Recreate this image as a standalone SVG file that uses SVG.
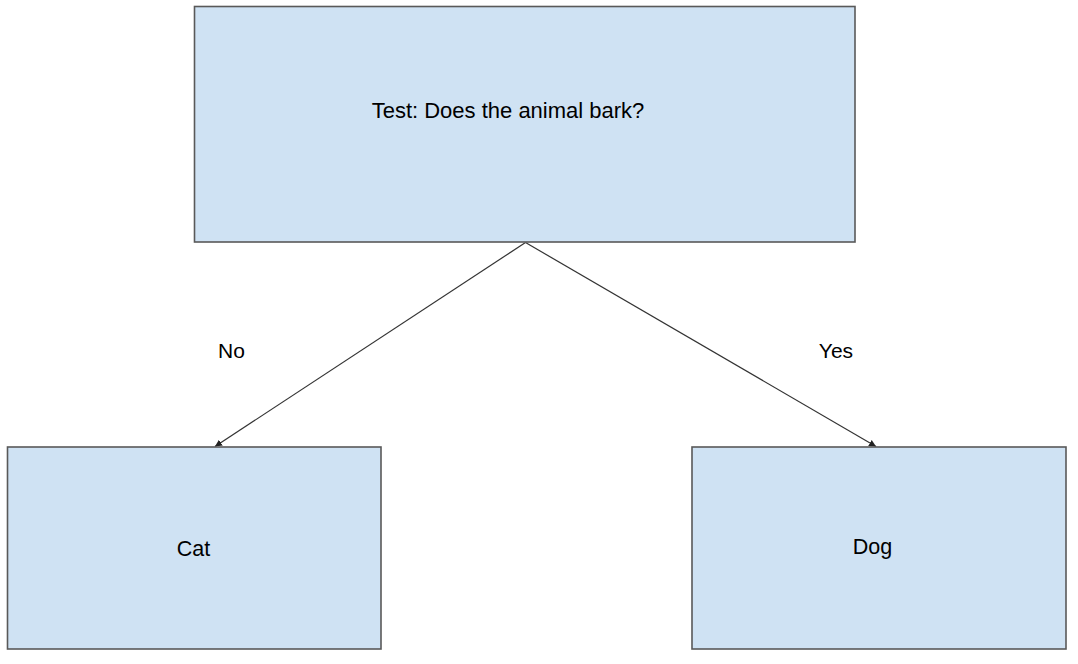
<svg xmlns="http://www.w3.org/2000/svg" width="1078" height="664" viewBox="0 0 1078 664">
<style>
.box{fill:#cfe2f3;stroke:#595959;stroke-width:1.6}
.lbl{font-family:"Liberation Sans",Arial,sans-serif;fill:#000;text-anchor:middle}
.edge{stroke:#333;stroke-width:1.2;fill:none;marker-end:url(#arr)}
</style>
<defs>
<marker id="arr" viewBox="0 0 10 10" refX="10" refY="5" markerWidth="7" markerHeight="7" markerUnits="userSpaceOnUse" orient="auto">
<path d="M0,0 L10,5 L0,10 z" fill="#222"/>
</marker>
</defs>
<rect width="1078" height="664" fill="#fff"/>
<g id="connectors">
<line class="edge" x1="525.5" y1="242.5" x2="215" y2="446.5"/>
<line class="edge" x1="525.5" y1="242.5" x2="876" y2="446.5"/>
<text class="lbl" x="231.5" y="358" font-size="21">No</text>
<text class="lbl" x="836" y="358" font-size="21">Yes</text>
</g>
<g id="node-test">
<rect class="box" x="194.5" y="6.5" width="660.5" height="235.5"/>
<text class="lbl" x="508" y="118" font-size="22">Test: Does the animal bark?</text>
</g>
<g id="node-cat">
<rect class="box" x="7.5" y="447" width="373.5" height="202"/>
<text class="lbl" x="193.5" y="556" font-size="21.5">Cat</text>
</g>
<g id="node-dog">
<rect class="box" x="692" y="447" width="374" height="202"/>
<text class="lbl" x="872.5" y="554" font-size="21.5">Dog</text>
</g>
</svg>
